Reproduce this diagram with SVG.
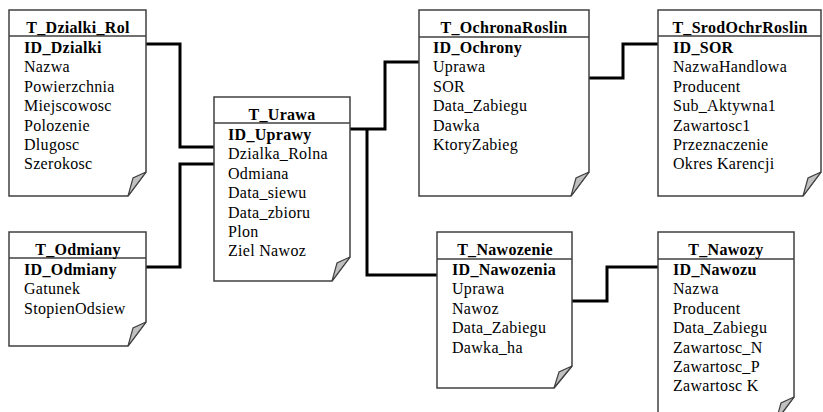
<svg xmlns="http://www.w3.org/2000/svg" width="823" height="412" viewBox="0 0 823 412">
<style>
.box{fill:#fff;stroke:#404040;stroke-width:1.5}
.fold{fill:#c0c0c0;stroke:#404040;stroke-width:1.2;stroke-linejoin:miter}
.hdr{stroke:#404040;stroke-width:1.5;fill:none}
.t{font-family:"Liberation Serif","Times New Roman",serif;font-size:16px;letter-spacing:0.3px;fill:#000}
.ti{font-weight:bold;text-anchor:middle}
.pk{font-weight:bold}
.conn path{fill:none;stroke:#000;stroke-width:3}
</style>
<rect width="823" height="412" fill="#fff"/>
<g class="conn" id="connectors">
<path d="M146,44 H180 V147 H214"/>
<path d="M214,164 H180 V267 H146"/>
<path d="M350,129 H385 V62 H419"/>
<path d="M367,129 V275 H437"/>
<path d="M589,78 H623 V44 H658"/>
<path d="M572,301 H607 V267 H658"/>
</g>
<g id="T_Dzialki_Rol">
<path class="box" d="M9,10 H146 V172 L128,196 H9 Z"/>
<path class="fold" d="M146,172 L133,178 L128,196 Z"/>
<path class="hdr" d="M9,36 H146"/>
<text class="t ti" x="78" y="33">T_Dzialki_Rol</text>
<text class="t pk" x="24" y="53">ID_Dzialki</text>
<text class="t" x="24" y="72.4">Nazwa</text>
<text class="t" x="24" y="91.8">Powierzchnia</text>
<text class="t" x="24" y="111.2">Miejscowosc</text>
<text class="t" x="24" y="130.6">Polozenie</text>
<text class="t" x="24" y="150">Dlugosc</text>
<text class="t" x="24" y="169.4">Szerokosc</text>
</g>
<g id="T_Urawa">
<path class="box" d="M214,97 H350 V257 L332,281 H214 Z"/>
<path class="fold" d="M350,257 L337,263 L332,281 Z"/>
<path class="hdr" d="M214,123 H350"/>
<text class="t ti" x="282" y="120">T_Urawa</text>
<text class="t pk" x="228" y="140">ID_Uprawy</text>
<text class="t" x="228" y="159.4">Dzialka_Rolna</text>
<text class="t" x="228" y="178.8">Odmiana</text>
<text class="t" x="228" y="198.2">Data_siewu</text>
<text class="t" x="228" y="217.6">Data_zbioru</text>
<text class="t" x="228" y="237">Plon</text>
<text class="t" x="228" y="256">Ziel Nawoz</text>
</g>
<g id="T_Odmiany">
<path class="box" d="M9,232 H146 V322 L128,346 H9 Z"/>
<path class="fold" d="M146,322 L133,328 L128,346 Z"/>
<path class="hdr" d="M9,258 H146"/>
<text class="t ti" x="78" y="255">T_Odmiany</text>
<text class="t pk" x="24" y="275">ID_Odmiany</text>
<text class="t" x="24" y="294.4">Gatunek</text>
<text class="t" x="24" y="313.8">StopienOdsiew</text>
</g>
<g id="T_OchronaRoslin">
<path class="box" d="M419,10 H589 V172 L571,196 H419 Z"/>
<path class="fold" d="M589,172 L576,178 L571,196 Z"/>
<path class="hdr" d="M419,37 H589"/>
<text class="t ti" x="504" y="33">T_OchronaRoslin</text>
<text class="t pk" x="433" y="53">ID_Ochrony</text>
<text class="t" x="433" y="72.4">Uprawa</text>
<text class="t" x="433" y="91.8">SOR</text>
<text class="t" x="433" y="111.2">Data_Zabiegu</text>
<text class="t" x="433" y="130.6">Dawka</text>
<text class="t" x="433" y="150">KtoryZabieg</text>
</g>
<g id="T_SrodOchrRoslin">
<path class="box" d="M658,10 H821 V172 L803,196 H658 Z"/>
<path class="fold" d="M821,172 L808,178 L803,196 Z"/>
<path class="hdr" d="M658,36 H821"/>
<text class="t ti" x="740" y="33">T_SrodOchrRoslin</text>
<text class="t pk" x="673" y="53">ID_SOR</text>
<text class="t" x="673" y="72.4">NazwaHandlowa</text>
<text class="t" x="673" y="91.8">Producent</text>
<text class="t" x="673" y="111.2">Sub_Aktywna1</text>
<text class="t" x="673" y="130.6">Zawartosc1</text>
<text class="t" x="673" y="150">Przeznaczenie</text>
<text class="t" x="673" y="169.4">Okres Karencji</text>
</g>
<g id="T_Nawozenie">
<path class="box" d="M437,232 H572 V366 L554,388 H437 Z"/>
<path class="fold" d="M572,366 L559,372 L554,388 Z"/>
<path class="hdr" d="M437,259 H572"/>
<text class="t ti" x="505" y="255">T_Nawozenie</text>
<text class="t pk" x="452" y="275">ID_Nawozenia</text>
<text class="t" x="452" y="294.4">Uprawa</text>
<text class="t" x="452" y="313.8">Nawoz</text>
<text class="t" x="452" y="333.2">Data_Zabiegu</text>
<text class="t" x="452" y="352.6">Dawka_ha</text>
</g>
<g id="T_Nawozy">
<path class="box" d="M658,232 H794 V397 L776,421 H658 Z"/>
<path class="fold" d="M794,397 L781,403 L776,421 Z"/>
<path class="hdr" d="M658,259 H794"/>
<text class="t ti" x="726" y="255">T_Nawozy</text>
<text class="t pk" x="673" y="275">ID_Nawozu</text>
<text class="t" x="673" y="294.4">Nazwa</text>
<text class="t" x="673" y="313.8">Producent</text>
<text class="t" x="673" y="333.2">Data_Zabiegu</text>
<text class="t" x="673" y="352.6">Zawartosc_N</text>
<text class="t" x="673" y="372">Zawartosc_P</text>
<text class="t" x="673" y="391.4">Zawartosc K</text>
</g>
</svg>
